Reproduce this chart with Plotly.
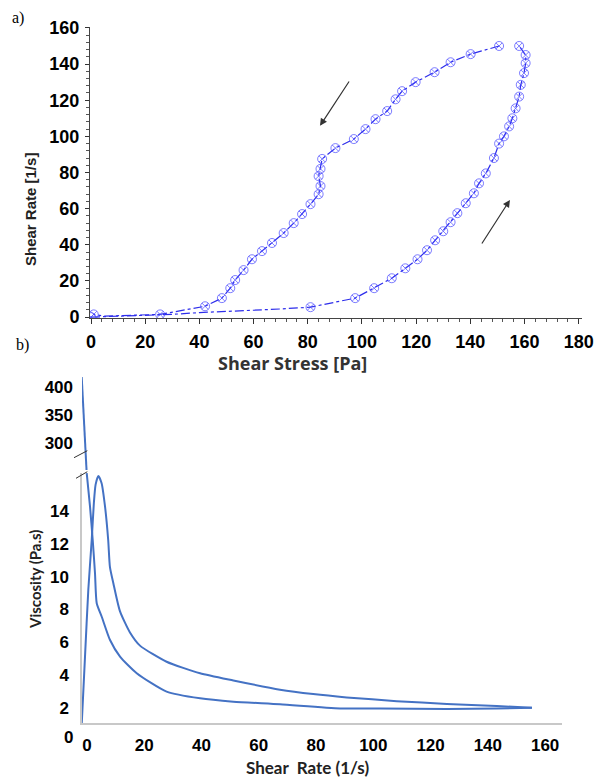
import plotly.graph_objects as go

# ---------------- data: panel a) (shear stress [Pa] vs shear rate [1/s]) -------------
up_stress = [0, 10, 20, 30, 40, 50, 60, 70, 81, 97.5, 104.5, 111, 116, 120.5, 124, 127,
             130, 132.7, 135.2, 138.3, 141.3, 143.2, 145.7, 148.7, 150.6, 152.4, 154.3,
             155.5, 156.7, 158, 158.6, 159.8, 160.4, 160.4, 158]
up_rate = [0, 0.5, 1, 1.5, 2.5, 3, 3.8, 4.5, 5.5, 10.5, 16, 21.5, 27, 32, 37, 42.5,
           47.5, 52.5, 57.5, 63, 68.5, 74, 79.5, 88, 96, 100, 105.5, 110, 115.5, 122,
           128.5, 135, 140.5, 145, 150]
down_stress = [150.6, 140.1, 132.7, 126.8, 119.8, 114.8, 112.4, 109.3, 105, 101.3, 97,
               90.2, 85.3, 84.7, 84, 84.7, 84, 81, 77.9, 74.8, 71.1, 66.8, 63.1, 59.4,
               56.3, 53.2, 51.4, 48.3, 42.1, 25.5, 15, 5, 1]
down_rate = [150, 145.5, 141, 135.5, 130, 125, 120.5, 114, 109.5, 104, 98.5, 93.5,
             87.5, 82, 78, 72.5, 68, 62.5, 57, 52, 46.5, 41, 36.5, 32, 26, 20.5, 16,
             10.5, 6, 1.5, 1, 0.5, 1.5]

a_xticks = [0, 20, 40, 60, 80, 100, 120, 140, 160, 180]
a_yticks = [0, 20, 40, 60, 80, 100, 120, 140, 160]

# ---------------- data: panel b) (shear rate [1/s] vs viscosity [Pa.s]) -------------
visc_a_rate = [-0.1, 1.05, 1.99, 2.79, 3.39, 5.14, 8.04, 11.53, 17.36, 27.8, 39.5, 51.1,
               67.4, 88.4, 102.4, 125.7, 143.1, 155.4]
visc_a_eta = [16.3, 14.26, 12.23, 10.21, 8.38, 7.56, 6.14, 5.13, 4.12, 3.0, 2.59, 2.39,
              2.23, 1.98, 1.98, 1.94, 1.98, 2.02]
visc_b_rate = [155.4, 143.1, 125.7, 108.2, 90.7, 79.0, 67.4, 51.1, 39.5, 27.8,
               18.5, 15.0, 11.5, 9.2, 8.0, 7.4, 6.3, 5.1, 3.95, 3.0, 2.4, 1.64, 0.45,
               -0.7, -1.85]
visc_b_eta = [2.02, 2.12, 2.25, 2.42, 2.65, 2.85, 3.12, 3.68, 4.12, 4.82, 5.8,
              6.6, 7.9, 9.6, 10.6, 12.23, 14.26, 15.69, 16.13, 15.6, 14.5, 12.23, 9.19,
              5.13, 1.0]
spike_rate = [-1.85, -0.05]
spike_eta = [418, 240]

b_xticks = [0, 20, 40, 60, 80, 100, 120, 140, 160]
b_yticks_low = [2, 4, 6, 8, 10, 12, 14]
b_yticks_high = [300, 350, 400]

W, H = 597, 779


def fx(px):
    return px / W


def fy(py):
    return 1 - py / H


fig = go.Figure()

A_LINE = "rgb(45,45,235)"
A_MARK = "rgba(70,70,255,0.7)"
B_LINE = "rgb(68,114,196)"

# panel a) lines
for xs, ys in [(up_stress, up_rate), (down_stress, down_rate)]:
    fig.add_trace(go.Scatter(x=xs, y=ys, mode="lines", xaxis="x", yaxis="y",
                             line=dict(color=A_LINE, width=1.2, dash="dashdot"),
                             showlegend=False, hoverinfo="skip"))
# panel a) markers (the flat start of the up ramp and the tail of the down ramp are bare)
up_idx = [0] + list(range(8, len(up_stress)))
down_idx = [i for i in range(len(down_stress)) if i not in (30, 31)]
for xs, ys, idx in [(up_stress, up_rate, up_idx), (down_stress, down_rate, down_idx)]:
    fig.add_trace(go.Scatter(x=[xs[i] for i in idx], y=[ys[i] for i in idx],
                             mode="markers", xaxis="x", yaxis="y",
                             marker=dict(symbol="circle-x-open", size=9,
                                         color=A_MARK, line=dict(width=1, color=A_MARK)),
                             showlegend=False))

# panel b) curves
for xs, ys in [(visc_a_rate, visc_a_eta), (visc_b_rate, visc_b_eta)]:
    fig.add_trace(go.Scatter(x=xs, y=ys, mode="lines", xaxis="x2", yaxis="y2",
                             line=dict(color=B_LINE, width=2, shape="spline", smoothing=0.6),
                             showlegend=False))
fig.add_trace(go.Scatter(x=spike_rate, y=spike_eta, mode="lines", xaxis="x2", yaxis="y3",
                         line=dict(color=B_LINE, width=2), showlegend=False))

bold_tick = dict(family="Liberation Sans, Arial", size=18, color="black", weight="bold")
bold_tick_b = dict(family="Liberation Sans, Arial", size=17, color="black", weight="bold")

fig.update_layout(
    width=W, height=H, margin=dict(l=0, r=0, t=0, b=0, autoexpand=False),
    paper_bgcolor="white", plot_bgcolor="white", showlegend=False,
    xaxis=dict(domain=[fx(90), fx(582)], range=[-0.37, 181.2], anchor="y",
               tickvals=a_xticks, ticks="outside", ticklen=5, tickcolor="#333",
               showline=True, linecolor="#444", linewidth=1, showgrid=False,
               zeroline=False, tickfont=bold_tick, ticklabelstandoff=2, automargin=False,
               minor=dict(dtick=4, ticks="outside", ticklen=3, tickcolor="#555")),
    yaxis=dict(domain=[fy(318), fy(27)], range=[-0.5, 160.5], anchor="x",
               tickvals=a_yticks, ticks="outside", ticklen=4, tickcolor="#333",
               showline=True, linecolor="#444", linewidth=1, showgrid=False,
               zeroline=False, tickfont=bold_tick, ticklabelstandoff=2, automargin=False,
               minor=dict(dtick=4, ticks="outside", ticklen=3, tickcolor="#555")),
    xaxis2=dict(domain=[fx(82), fx(562)], range=[-1.75, 165.9], anchor="y2",
                tickvals=b_xticks, ticks="", showline=True, linecolor="#c8c8c8",
                linewidth=1.5, showgrid=False, zeroline=False, tickfont=bold_tick_b,
                ticklabelstandoff=6, automargin=False),
    yaxis2=dict(domain=[fy(723), fy(473)], range=[1.09, 16.31], anchor="x2",
                tickvals=b_yticks_low, ticks="", showline=True, linecolor="#c8c8c8",
                linewidth=1.5, showgrid=False, zeroline=False, tickfont=bold_tick_b,
                ticklabelstandoff=8, automargin=False),
    yaxis3=dict(domain=[fy(470), fy(377)], range=[251.8, 417.9], anchor="x2",
                tickvals=b_yticks_high, ticks="", showline=False, showgrid=False,
                zeroline=False, tickfont=bold_tick_b, ticklabelstandoff=8, automargin=False),
)

# broken-axis marks
for (x0, y0, x1, y1) in [(74, 457.7, 87.3, 450.7), (76, 478.3, 87.3, 471.7)]:
    fig.add_shape(type="line", xref="paper", yref="paper",
                  x0=fx(x0), y0=fy(y0), x1=fx(x1), y1=fy(y1),
                  line=dict(color="#333", width=1))

ann = [
    dict(text="a)", x=fx(18), y=fy(18), font=dict(family="Liberation Serif", size=16, color="black")),
    dict(text="b)", x=fx(22), y=fy(345), font=dict(family="Liberation Serif", size=16, color="black")),
    dict(text="<b>Shear Stress [Pa]</b>", x=fx(292), y=fy(363),
         font=dict(family="Open Sans, Noto Sans", size=18, color="#333")),
    dict(text="<b>Shear Rate [1/s]</b>", x=fx(30), y=fy(210), textangle=-90,
         font=dict(family="Liberation Sans Narrow, Liberation Sans", size=15, color="#222")),
    dict(text="Shear  Rate (1/s)", x=fx(307), y=fy(767),
         font=dict(family="Lato", size=17, color="#222", weight="bold")),
    dict(text="Viscosity (Pa.s)", x=fx(35), y=fy(580), textangle=-90,
         font=dict(family="Lato", size=15, color="#222", weight="bold")),
    dict(text="0", x=fx(68), y=fy(737),
         font=dict(family="Liberation Sans, Arial", size=17, color="black", weight="bold")),
]
for a in ann:
    fig.add_annotation(xref="paper", yref="paper", showarrow=False,
                       xanchor="center", yanchor="middle", **a)

# direction arrows (panel a)
for (tx, ty, sx, sy) in [(84.5, 105.8, 95.6, 131.2), (154.6, 64.8, 143.9, 39.9)]:
    fig.add_annotation(x=tx, y=ty, ax=sx, ay=sy, xref="x", yref="y", axref="x", ayref="y",
                       showarrow=True, arrowhead=2, arrowsize=1.2, arrowwidth=1.2,
                       arrowcolor="#333", text="")

fig.write_html("out.html", config={"displayModeBar": False},
               post_script="document.body.style.margin='0';document.body.style.overflow='hidden';")
